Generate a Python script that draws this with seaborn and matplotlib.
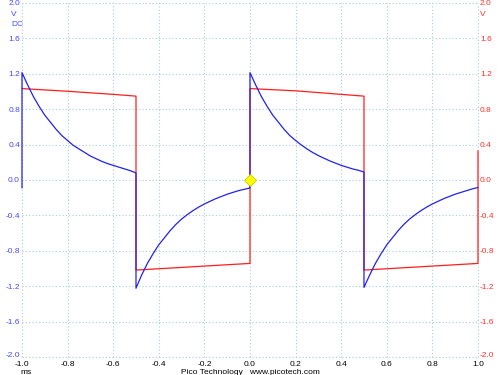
import numpy as np
import pandas as pd
import matplotlib
matplotlib.use("Agg")
import matplotlib.pyplot as plt
import matplotlib.transforms as mtransforms
import seaborn as sns

# ---- data ----
# sample offsets (ms) within each half-cycle of 0.5 ms
seg_offsets = np.round(np.arange(0, 0.5001, 0.025), 3)
# blue channel (A), one list per half-cycle
blue_pos_1 = [1.21, 1.07, 0.94, 0.83, 0.73, 0.65, 0.57, 0.50, 0.445, 0.39, 0.35,
              0.31, 0.27, 0.24, 0.21, 0.185, 0.165, 0.145, 0.125, 0.105, 0.08]
blue_neg_1 = [-1.22, -1.07, -0.94, -0.83, -0.73, -0.65, -0.57, -0.50, -0.44, -0.39, -0.345,
              -0.305, -0.27, -0.24, -0.21, -0.185, -0.16, -0.14, -0.12, -0.105, -0.09]
blue_pos_2 = [1.21, 1.07, 0.94, 0.83, 0.73, 0.65, 0.57, 0.50, 0.445, 0.395, 0.35,
              0.31, 0.275, 0.245, 0.215, 0.19, 0.165, 0.145, 0.125, 0.11, 0.09]
blue_neg_2 = [-1.21, -1.07, -0.94, -0.83, -0.73, -0.65, -0.57, -0.50, -0.44, -0.39, -0.345,
              -0.305, -0.27, -0.24, -0.21, -0.185, -0.16, -0.14, -0.12, -0.10, -0.085]
blue_start = -0.09
# red channel (B)
red_time = [-1.0, -0.8, -0.6, -0.5, -0.5, -0.3, -0.1, 0.0, 0.0, 0.2, 0.4, 0.5,
            0.5, 0.7, 0.9, 1.0, 1.0]
red_volts = [1.03, 1.00, 0.965, 0.945, -1.015, -0.985, -0.955, -0.94, 1.03, 1.005,
             0.965, 0.945, -1.015, -0.985, -0.955, -0.94, 0.33]
x_ticks = [-1.0, -0.8, -0.6, -0.4, -0.2, 0.0, 0.2, 0.4, 0.6, 0.8, 1.0]
y_ticks = [-2.0, -1.6, -1.2, -0.8, -0.4, 0.0, 0.4, 0.8, 1.2, 1.6, 2.0]
trigger_point = (0.0, 0.0)

blue_time = [-1.0] + list(-1.0 + seg_offsets) + list(-0.5 + seg_offsets) \
    + list(0.0 + seg_offsets) + list(0.5 + seg_offsets)
blue_volts = [blue_start] + blue_pos_1 + blue_neg_1 + blue_pos_2 + blue_neg_2

df_blue = pd.DataFrame({"t": blue_time, "v": blue_volts})
df_red = pd.DataFrame({"t": red_time, "v": red_volts})

sns.set_style("white")
plt.rcParams["font.family"] = ["Liberation Sans", "DejaVu Sans"]

fig = plt.figure(figsize=(5, 3.75), dpi=100)
ax = fig.add_axes([0.044, 0.0467, 0.912, 0.9466])

grid_col = "#a6cfdc"
for s in ax.spines.values():
    s.set_visible(False)

sns.lineplot(data=df_red, x="t", y="v", sort=False, estimator=None,
             color="#ff1e1e", linewidth=0.9, ax=ax, zorder=3)
sns.lineplot(data=df_blue, x="t", y="v", sort=False, estimator=None,
             color="#2222ee", linewidth=0.9, ax=ax, zorder=4)
for ln in ax.get_lines():
    ln.set_clip_on(False)
ax.plot([trigger_point[0]], [trigger_point[1]], marker="D", markersize=6,
        color="#ffff00", markeredgecolor="#c8c800", markeredgewidth=0.6,
        zorder=5, clip_on=False)

ax.set_xlim(-1.0, 1.0)
ax.set_ylim(-2.0, 2.0)
ax.set_xticks(x_ticks)
ax.set_yticks(y_ticks)
ax.set_xticklabels([f"{v:.1f}" for v in x_ticks])
ax.set_yticklabels([f"{v:.1f}" for v in y_ticks])
ax.set_xlabel("")
ax.set_ylabel("")
ax.grid(True, color=grid_col, linestyle=(0, (1, 2)), linewidth=0.8)
for gl in ax.get_xgridlines() + ax.get_ygridlines():
    gl.set_clip_on(False)
ax.tick_params(axis="both", length=0, labelsize=6)
ax.tick_params(axis="y", pad=1.5, labelcolor="#4848ff")
ax.tick_params(axis="x", pad=2.5, labelcolor="#000000")

ax2 = ax.twinx()
for s in ax2.spines.values():
    s.set_visible(False)
ax2.set_ylim(-2.0, 2.0)
ax2.set_yticks(y_ticks)
ax2.set_yticklabels([f"{v:.1f}" for v in y_ticks])
ax2.tick_params(axis="y", length=0, labelsize=6, pad=1.5, labelcolor="#ff3030")
ax2.grid(False)

# nudge the bottom (-2.0) labels up slightly, as on the scope screen
shift_up = mtransforms.ScaledTranslation(0, 3 / 100, fig.dpi_scale_trans)
for lab in [ax.get_yticklabels()[0], ax2.get_yticklabels()[0]]:
    lab.set_transform(lab.get_transform() + shift_up)

# unit labels
fig.text(0.022, 1 - 14 / 375, "V", color="#4848ff", fontsize=6, ha="left", va="center")
fig.text(0.022, 1 - 24 / 375, "DC", color="#4848ff", fontsize=6, ha="left", va="center")
fig.text(0.960, 1 - 14 / 375, "V", color="#ff3030", fontsize=6, ha="left", va="center")
fig.text(0.052, 1 - 372 / 375, "ms", color="#000000", fontsize=6, ha="center", va="center")
fig.text(0.5, 1 - 372 / 375, "Pico Technology   www.picotech.com", color="#000000",
         fontsize=6, ha="center", va="center")

fig.savefig("out.png", dpi=100, facecolor="white")
